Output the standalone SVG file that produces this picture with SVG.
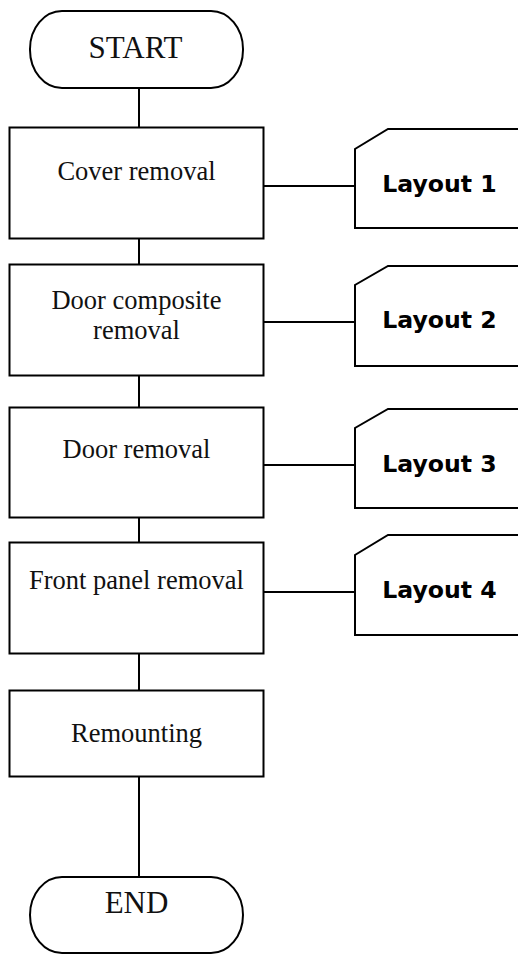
<svg xmlns="http://www.w3.org/2000/svg" width="518" height="954" viewBox="0 0 518 954">
<style>
.s{fill:#fff;stroke:#000;stroke-width:2}
.t{font-family:"Liberation Serif","Times New Roman",serif;font-size:26.5px;text-anchor:middle;fill:#111}
.big{font-size:31px}
.l{font-family:"DejaVu Sans",Verdana,sans-serif;font-weight:bold;font-size:23.6px;text-anchor:middle;fill:#000}
.c{stroke:#000;stroke-width:2;fill:none}
</style>
<g id="connectors">
<line class="c" x1="139" y1="88" x2="139" y2="127"/>
<line class="c" x1="139" y1="239" x2="139" y2="264"/>
<line class="c" x1="139" y1="376" x2="139" y2="407"/>
<line class="c" x1="139" y1="518" x2="139" y2="542"/>
<line class="c" x1="139" y1="654" x2="139" y2="690"/>
<line class="c" x1="139" y1="777" x2="139" y2="877"/>
<line class="c" x1="264" y1="186" x2="355" y2="186"/>
<line class="c" x1="264" y1="322" x2="355" y2="322"/>
<line class="c" x1="264" y1="465" x2="355" y2="465"/>
<line class="c" x1="264" y1="592" x2="355" y2="592"/>
</g>
<g id="start">
<rect class="s" x="30" y="11" width="213" height="77" rx="32" ry="38"/>
<text class="t big" x="135.5" y="58">START</text>
</g>
<g id="cover">
<rect class="s" x="9.5" y="127.5" width="254" height="111"/>
<text class="t" x="136.5" y="180">Cover removal</text>
</g>
<g id="doorcomposite">
<rect class="s" x="9.5" y="264.5" width="254" height="111"/>
<text class="t" x="136.5" y="309">Door composite</text>
<text class="t" x="136.5" y="339">removal</text>
</g>
<g id="door">
<rect class="s" x="9.5" y="407.5" width="254" height="110"/>
<text class="t" x="136.5" y="458">Door removal</text>
</g>
<g id="frontpanel">
<rect class="s" x="9.5" y="542.5" width="254" height="111"/>
<text class="t" x="136.5" y="589">Front panel removal</text>
</g>
<g id="remounting">
<rect class="s" x="9.5" y="690.5" width="254" height="86"/>
<text class="t" x="136.5" y="742">Remounting</text>
</g>
<g id="end">
<rect class="s" x="30" y="877" width="213" height="76" rx="32" ry="38"/>
<text class="t big" x="136.5" y="913">END</text>
</g>
<g id="layout1">
<path class="s" d="M355,228 L355,149 L388,129 L520,129 L520,228 Z"/>
<text class="l" x="439.5" y="192">Layout 1</text>
</g>
<g id="layout2">
<path class="s" d="M355,366 L355,285 L388,266 L520,266 L520,366 Z"/>
<text class="l" x="439.5" y="328">Layout 2</text>
</g>
<g id="layout3">
<path class="s" d="M355,508 L355,428 L388,409 L520,409 L520,508 Z"/>
<text class="l" x="439.5" y="472">Layout 3</text>
</g>
<g id="layout4">
<path class="s" d="M355,635 L355,555 L388,535 L520,535 L520,635 Z"/>
<text class="l" x="439.5" y="598">Layout 4</text>
</g>
</svg>
